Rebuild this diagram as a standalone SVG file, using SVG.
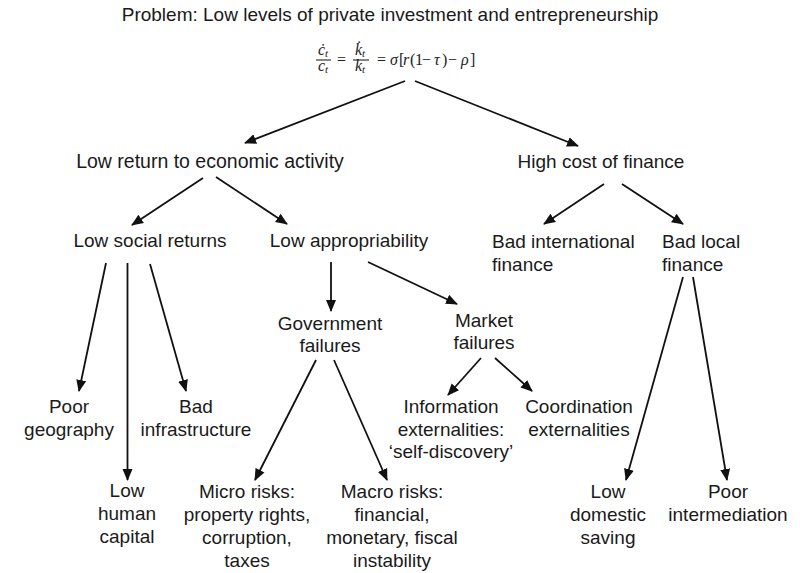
<svg xmlns="http://www.w3.org/2000/svg" width="800" height="573" viewBox="0 0 800 573">
<style>
text{font-family:"Liberation Sans",Arial,sans-serif;font-size:19px;fill:#1a1a1a}
.c{text-anchor:middle}
.eq{font-family:"Liberation Serif","DejaVu Serif",serif;font-size:16px;fill:#222}
.i{font-style:italic}
.sub{font-size:11px;font-style:italic}
#connectors line{stroke:#111;stroke-width:1.8;fill:none}
</style>
<defs>
<marker id="ah" markerUnits="userSpaceOnUse" markerWidth="12" markerHeight="12" viewBox="0 0 12 10" refX="11" refY="5" orient="auto">
<path d="M0,0 L12,5 L0,10 z" fill="#111"/>
</marker>
</defs>
<rect width="800" height="573" fill="#fff"/>

<g id="title"><text class="c" x="390" y="21">Problem: Low levels of private investment and entrepreneurship</text></g>

<g id="equation">
<text class="eq i" x="318" y="55">ċ<tspan class="sub" dy="2">t</tspan></text>
<line x1="316" y1="60" x2="331" y2="60" stroke="#222" stroke-width="1.1"/>
<text class="eq i" x="318" y="71">c<tspan class="sub" dy="2">t</tspan></text>
<text class="eq" x="337" y="65">=</text>
<text class="eq i" x="355" y="55">k̇<tspan class="sub" dy="2">t</tspan></text>
<line x1="353" y1="60" x2="369" y2="60" stroke="#222" stroke-width="1.1"/>
<text class="eq i" x="355" y="71">k<tspan class="sub" dy="2">t</tspan></text>
<text class="eq" y="65"><tspan x="377">=</tspan><tspan class="i" x="390">σ</tspan><tspan x="399">[</tspan><tspan class="i" x="403">r</tspan><tspan x="410">(</tspan><tspan x="415">1</tspan><tspan x="422">−</tspan><tspan class="i" x="434">τ</tspan><tspan x="442">)</tspan><tspan x="448">−</tspan><tspan class="i" x="461">ρ</tspan><tspan x="470">]</tspan></text>
</g>

<g id="connectors">
<line x1="405" y1="81" x2="245" y2="143" marker-end="url(#ah)"/>
<line x1="415" y1="81" x2="578" y2="146" marker-end="url(#ah)"/>
<line x1="203" y1="178" x2="132" y2="225" marker-end="url(#ah)"/>
<line x1="216" y1="177" x2="287" y2="224" marker-end="url(#ah)"/>
<line x1="604" y1="184" x2="544" y2="224" marker-end="url(#ah)"/>
<line x1="622" y1="184" x2="683" y2="224" marker-end="url(#ah)"/>
<line x1="106" y1="263" x2="79" y2="391" marker-end="url(#ah)"/>
<line x1="127.5" y1="263" x2="127.5" y2="480" marker-end="url(#ah)"/>
<line x1="150" y1="264" x2="186" y2="391" marker-end="url(#ah)"/>
<line x1="331" y1="262" x2="331" y2="311" marker-end="url(#ah)"/>
<line x1="368" y1="262" x2="457" y2="304" marker-end="url(#ah)"/>
<line x1="316" y1="360" x2="255" y2="480" marker-end="url(#ah)"/>
<line x1="334" y1="360" x2="387" y2="480" marker-end="url(#ah)"/>
<line x1="481" y1="358" x2="448" y2="395" marker-end="url(#ah)"/>
<line x1="495" y1="358" x2="532" y2="391" marker-end="url(#ah)"/>
<line x1="683" y1="277" x2="626" y2="480" marker-end="url(#ah)"/>
<line x1="693" y1="277" x2="727" y2="480" marker-end="url(#ah)"/>
</g>

<g id="low-return"><text class="c" x="210" y="168" style="font-size:19.5px">Low return to economic activity</text></g>
<g id="high-cost"><text class="c" x="601" y="168">High cost of finance</text></g>
<g id="low-social"><text class="c" x="150" y="247">Low social returns</text></g>
<g id="low-approp"><text class="c" x="349" y="247">Low appropriability</text></g>
<g id="bad-intl"><text x="492" y="248">Bad international<tspan x="492" dy="22.5">finance</tspan></text></g>
<g id="bad-local"><text x="662" y="248">Bad local<tspan x="662" dy="22.5">finance</tspan></text></g>
<g id="gov-fail"><text class="c" x="330" y="330">Government<tspan x="330" dy="22">failures</tspan></text></g>
<g id="mkt-fail"><text class="c" x="484" y="327">Market<tspan x="484" dy="22">failures</tspan></text></g>
<g id="poor-geo"><text class="c" x="69" y="413">Poor<tspan x="69" dy="23">geography</tspan></text></g>
<g id="bad-infra"><text class="c" x="196" y="413">Bad<tspan x="196" dy="23">infrastructure</tspan></text></g>
<g id="low-human"><text class="c" x="127" y="497">Low<tspan x="127" dy="23">human</tspan><tspan x="127" dy="23">capital</tspan></text></g>
<g id="info-ext"><text class="c" x="451" y="413">Information<tspan x="451" dy="22.5">externalities:</tspan><tspan x="451" dy="22.5">‘self-discovery’</tspan></text></g>
<g id="coord-ext"><text class="c" x="579" y="413">Coordination<tspan x="579" dy="22.5">externalities</tspan></text></g>
<g id="micro"><text class="c" x="247" y="498">Micro risks:<tspan x="247" dy="23">property rights,</tspan><tspan x="247" dy="22.5">corruption,</tspan><tspan x="247" dy="23">taxes</tspan></text></g>
<g id="macro"><text class="c" x="392" y="498">Macro risks:<tspan x="392" dy="23">financial,</tspan><tspan x="392" dy="22.5">monetary, fiscal</tspan><tspan x="392" dy="23">instability</tspan></text></g>
<g id="low-saving"><text class="c" x="608" y="498">Low<tspan x="608" dy="23">domestic</tspan><tspan x="608" dy="22.5">saving</tspan></text></g>
<g id="poor-inter"><text class="c" x="728" y="498">Poor<tspan x="728" dy="23">intermediation</tspan></text></g>
</svg>
